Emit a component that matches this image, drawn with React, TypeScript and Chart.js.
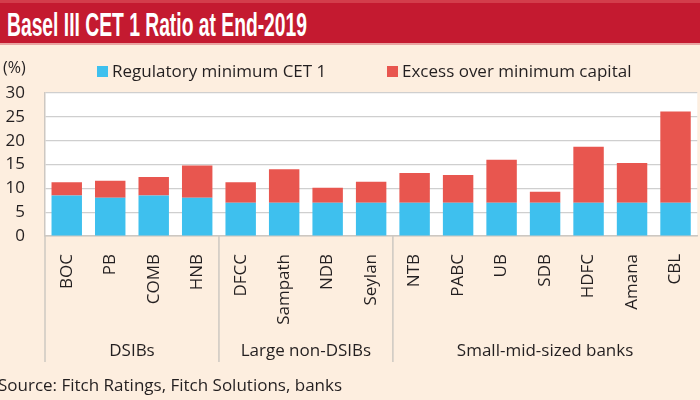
import React, { useEffect, useLayoutEffect, useRef } from "react";
import { Chart, registerables } from "chart.js";

Chart.register(...registerables);

const banks = ["BOC", "PB", "COMB", "HNB", "DFCC", "Sampath", "NDB", "Seylan", "NTB", "PABC", "UB", "SDB", "HDFC", "Amana", "CBL"];
const regulatoryMinimum = [8.5, 8.0, 8.5, 8.0, 7.0, 7.0, 7.0, 7.0, 7.0, 7.0, 7.0, 7.0, 7.0, 7.0, 7.0];
const excessOverMinimum = [2.8, 3.6, 3.9, 6.8, 4.3, 7.0, 3.1, 4.4, 6.2, 5.8, 9.0, 2.3, 11.7, 8.3, 19.1];
const groupNames = ["DSIBs", "Large non-DSIBs", "Small-mid-sized banks"];
const groupSizes = [4, 4, 7];
const seriesNames = ["Regulatory minimum CET 1", "Excess over minimum capital"];
const yMin = 0;
const yMax = 30;
const yStep = 5;

const BLUE = "#3ec0ee";
const RED = "#e8564f";
const CREAM = "#fdeedf";
const TEXT = "#231f20";
const FONT = "'Open Sans', 'Noto Sans', sans-serif";
const LINE = "#cdc8c2";

const decorPlugin = {
  id: "decor",
  beforeDraw(chart: any) {
    const { ctx, chartArea } = chart;
    ctx.save();
    ctx.fillStyle = "#ffffff";
    ctx.fillRect(chartArea.left, chartArea.top, chartArea.right - chartArea.left, chartArea.bottom - chartArea.top);
    ctx.restore();
  },
  afterDraw(chart: any) {
    const { ctx, chartArea } = chart;
    const x = chart.scales.x;
    const half = (x.getPixelForValue(1) - x.getPixelForValue(0)) / 2;
    ctx.save();
    let start = 0;
    ctx.strokeStyle = LINE;
    ctx.lineWidth = 1.5;
    ctx.fillStyle = TEXT;
    ctx.font = `17px ${FONT}`;
    ctx.textAlign = "center";
    ctx.textBaseline = "middle";
    groupSizes.forEach((n, gi) => {
      const left = x.getPixelForValue(start) - half;
      const right = Math.min(x.getPixelForValue(start + n - 1) + half, chartArea.right);
      ctx.beginPath();
      ctx.moveTo(left, chartArea.bottom);
      ctx.lineTo(left, 362);
      ctx.stroke();
      ctx.fillText(groupNames[gi], (left + right) / 2, 351);
      start += n;
    });
    ctx.textAlign = "left";
    ctx.font = `16px ${FONT}`;
    ctx.fillText("(%)", 3, 68);
    const legendX = [97, 387];
    const colors = [BLUE, RED];
    ctx.font = `17px ${FONT}`;
    seriesNames.forEach((name, i) => {
      ctx.fillStyle = colors[i];
      ctx.fillRect(legendX[i], 66, 11, 11);
      ctx.fillStyle = TEXT;
      ctx.fillText(name, legendX[i] + 15, 72);
    });
    ctx.restore();
  },
};

export default function App() {
  const canvasRef = useRef<HTMLCanvasElement | null>(null);
  const titleRef = useRef<HTMLSpanElement | null>(null);

  useLayoutEffect(() => {
    const s = titleRef.current;
    if (!s) return;
    s.style.transform = "none";
    const w = s.getBoundingClientRect().width;
    if (w > 0) s.style.transform = `scaleX(${300 / w})`;
  }, []);

  useEffect(() => {
    if (!canvasRef.current) return;
    const chart = new Chart(canvasRef.current, {
      type: "bar",
      data: {
        labels: banks,
        datasets: [
          { label: seriesNames[0], data: regulatoryMinimum, backgroundColor: BLUE, barPercentage: 0.7, categoryPercentage: 1 },
          { label: seriesNames[1], data: excessOverMinimum, backgroundColor: RED, barPercentage: 0.7, categoryPercentage: 1 },
        ],
      },
      options: {
        responsive: false,
        animation: false,
        devicePixelRatio: 1,
        layout: { padding: { top: 93, right: 2, bottom: 0, left: 0 } },
        plugins: { legend: { display: false }, tooltip: { enabled: false }, title: { display: false } },
        scales: {
          x: {
            stacked: true,
            grid: { display: false, drawTicks: false },
            border: { display: true, color: LINE, width: 1.5 },
            ticks: {
              autoSkip: false,
              minRotation: 90,
              maxRotation: 90,
              padding: 18,
              color: TEXT,
              font: { family: FONT, size: 17 },
            },
            afterFit: (scale: any) => {
              scale.height = 164;
            },
          },
          y: {
            stacked: true,
            min: yMin,
            max: yMax,
            ticks: { stepSize: yStep, padding: 20, color: TEXT, font: { family: FONT, size: 17 } },
            grid: { color: "#cfcfcf", lineWidth: 1.2, drawTicks: false },
            border: { display: true, color: LINE, width: 1.5 },
            afterFit: (scale: any) => {
              scale.width = 45;
            },
          },
        },
      },
      plugins: [decorPlugin],
    });
    return () => chart.destroy();
  }, []);

  return (
    <div style={{ position: "fixed", left: 0, top: 0, width: 700, height: 400, overflow: "hidden", background: CREAM }}>
      <canvas ref={canvasRef} width={714} height={400} style={{ position: "absolute", left: 0, top: 0, width: 714, height: 400 }} />
      <div
        style={{
          position: "absolute",
          left: 0,
          top: 0,
          width: 700,
          height: 40,
          background: "#c41a30",
          borderTop: "3px solid #d33d4b",
          borderBottom: "2px solid #e9a5a2",
          overflow: "hidden",
        }}
      >
        <span
          ref={titleRef}
          style={{
            position: "absolute",
            left: 7,
            top: 1,
            display: "inline-block",
            transformOrigin: "left center",
            whiteSpace: "nowrap",
            color: "#ffffff",
            fontFamily: "'Liberation Sans Narrow', 'Liberation Sans', Arial, sans-serif",
            fontWeight: 700,
            fontSize: 34,
            lineHeight: "40px",
          }}
        >
          Basel III CET 1 Ratio at End-2019
        </span>
      </div>
      <div
        style={{
          position: "absolute",
          left: -2,
          top: 375,
          whiteSpace: "nowrap",
          color: TEXT,
          fontFamily: FONT,
          fontSize: 17,
          lineHeight: "20px",
        }}
      >
        Source: Fitch Ratings, Fitch Solutions, banks
      </div>
    </div>
  );
}
